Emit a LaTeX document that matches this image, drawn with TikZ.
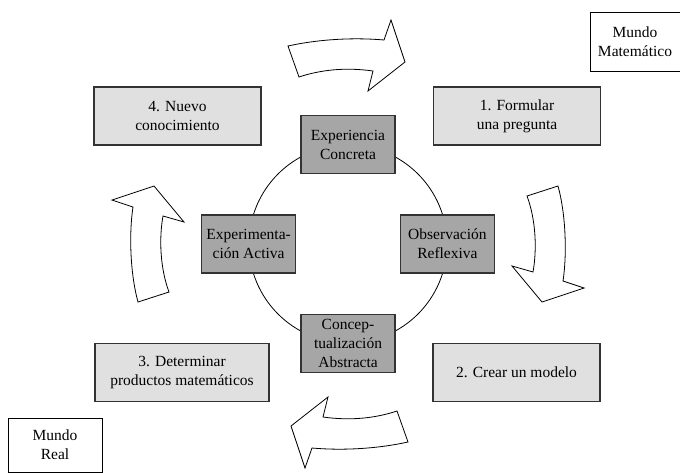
\documentclass[tikz,border=0pt]{standalone}
\usepackage{fontspec}
\setmainfont{Liberation Serif}
\usetikzlibrary{positioning}
\definecolor{lightbox}{HTML}{E0E0E0}
\definecolor{darkbox}{HTML}{A6A6A6}
\definecolor{boxline}{HTML}{333333}

\begin{document}
\begin{tikzpicture}[
    x=1pt, y=-1pt,
    every node/.style={font=\fontsize{15.5}{19}\selectfont, align=center, inner sep=0pt},
    phase/.style={rectangle, draw=boxline, line width=1.2pt, fill=lightbox, minimum width=167pt, minimum height=58pt},
    stage/.style={rectangle, draw=boxline, line width=1.2pt, fill=darkbox, minimum width=94pt, minimum height=58pt},
    world/.style={rectangle, draw=black, line width=0.8pt, fill=white, minimum width=90pt, minimum height=59pt},
    turn/.style={draw=black, line width=0.8pt, fill=white, line join=miter}
]
    \useasboundingbox (0,0) rectangle (680,472);

    % curved block arrows, the lower pair is the upper pair turned round the centre
    \foreach \ang in {0,180} {
        \begin{scope}[rotate around={\ang:(348,244)}]
            \draw[turn] (288,46) .. controls (315,40) and (350,37) .. (384,40) -- (391,20) -- (405,62) -- (368,91) -- (373,71) .. controls (345,67) and (320,70) .. (299,77) -- cycle;
            \draw[turn] (527,196) -- (558,186) .. controls (566,215) and (567,255) .. (563,281) -- (584,288) -- (542,302) -- (512,266) -- (533,272) .. controls (537,250) and (536,220) .. (527,196) -- cycle;
        \end{scope}
    }

    % learning cycle
    \node[circle, draw, line width=0.8pt, minimum size=198pt] (kolb) at (348,244) {};
    \node[stage] (concreta) at (kolb.north) {Experiencia\\Concreta};
    \node[stage] (reflexiva) at (kolb.east) {Observación\\Reflexiva};
    \node[stage] (abstracta) at (kolb.south) {Concep-\\tualización\\Abstracta};
    \node[stage] (activa) at (kolb.west) {Experimenta-\\ción Activa};

    % modelling steps
    \node[phase] (pregunta) at (517,116) {1. Formular\\una pregunta};
    \node[phase] (modelo) at (516.5,372.5) {2. Crear un modelo};
    \node[phase, minimum width=174pt] (productos) at (182,372.5) {3. Determinar\\productos matemáticos};
    \node[phase] (nuevo) at (177.5,116) {4. Nuevo\\conocimiento};

    \node[world] (matematico) at (635,41.5) {Mundo\\Matemático};
    \node[world, minimum width=94pt, minimum height=54pt] (real) at (55,445) {Mundo\\Real};
\end{tikzpicture}
\end{document}
